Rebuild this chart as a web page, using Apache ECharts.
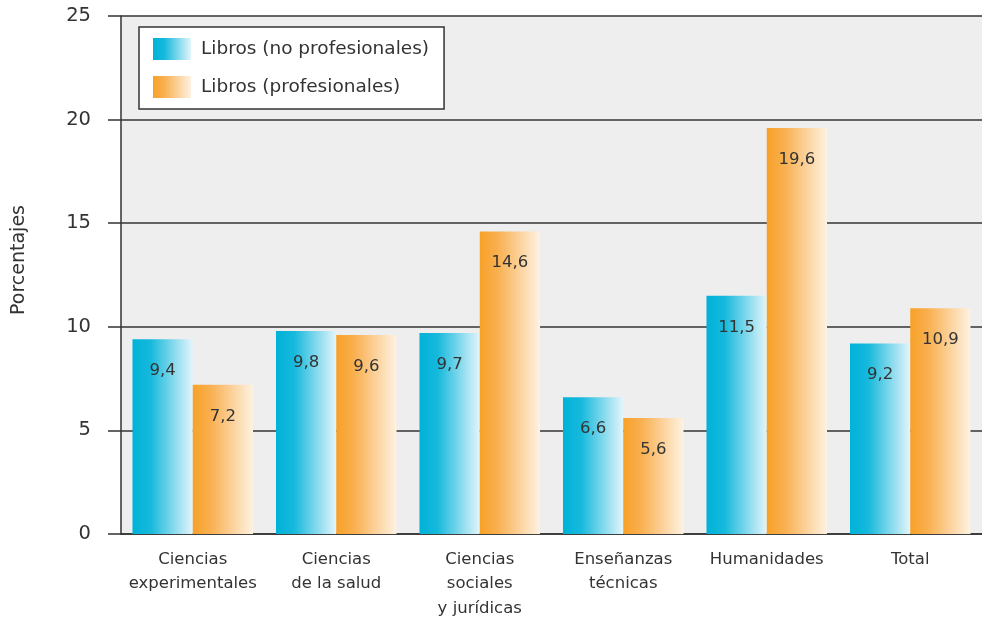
<!DOCTYPE html>
<html>
<head>
<meta charset="utf-8">
<script src="https://cdn.jsdelivr.net/npm/echarts@6/dist/echarts.min.js"></script>
<style>
  html, body { margin: 0; padding: 0; background: #fff; }
  #main { width: 982px; height: 619px; }
</style>
</head>
<body>
<div id="main"></div>
<script>
// datos
var categorias = ['Ciencias\nexperimentales', 'Ciencias\nde la salud', 'Ciencias\nsociales\ny jurídicas', 'Enseñanzas\ntécnicas', 'Humanidades', 'Total']
var noProfesionales = [9.4, 9.8, 9.7, 6.6, 11.5, 9.2]
var profesionales = [7.2, 9.6, 14.6, 5.6, 19.6, 10.9]
var nombres = ['Libros (no profesionales)', 'Libros (profesionales)']

var fuente = '"DejaVu Sans", sans-serif'

function degradado(c1, c2, c3) {
  return new echarts.graphic.LinearGradient(0, 0, 1, 0, [
    { offset: 0, color: c1 },
    { offset: 0.3, color: c2 },
    { offset: 1, color: c3 }
  ])
}

function etiqueta() {
  return {
    show: true,
    position: 'insideTop',
    distance: 23,
    color: '#333',
    fontSize: 16.5,
    fontFamily: fuente,
    formatter: function (p) { return String(p.value).replace('.', ',') }
  }
}

var myChart = echarts.init(document.getElementById('main'))
myChart.setOption({
  backgroundColor: '#fff',
  animation: false,
  grid: {
    left: 121, right: 0, top: 16, bottom: 85,
    outerBoundsMode: 'none',
    backgroundColor: '#eeeeee', show: true, borderWidth: 0
  },
  legend: {
    left: 139, top: 27,
    orient: 'vertical',
    icon: 'rect',
    itemWidth: 38, itemHeight: 22, itemGap: 16,
    padding: [11, 15, 11, 14],
    backgroundColor: '#fff',
    borderColor: '#333',
    borderWidth: 1.5,
    textStyle: { fontSize: 18.5, color: '#333', fontFamily: fuente, padding: [0, 0, 0, 5] },
    data: nombres
  },
  xAxis: {
    type: 'category',
    data: categorias,
    axisLine: { lineStyle: { color: '#333', width: 1.5 } },
    axisTick: { length: 12, lineStyle: { color: '#333', width: 1.5 } },
    axisLabel: { fontSize: 16.5, color: '#333', fontFamily: fuente, lineHeight: 24.5, margin: 13, interval: 0 }
  },
  yAxis: {
    type: 'value',
    min: 0, max: 25, interval: 5,
    name: 'Porcentajes',
    nameLocation: 'middle',
    nameGap: 92,
    nameTextStyle: { fontSize: 19, color: '#333', fontFamily: fuente, padding: [0, 0, 0, 30] },
    axisLine: { show: true, lineStyle: { color: '#333', width: 1.5 } },
    axisTick: { show: true, length: 13, lineStyle: { color: '#333', width: 1.5 } },
    axisLabel: { fontSize: 19.5, color: '#333', fontFamily: fuente, margin: 30 },
    splitLine: { lineStyle: { color: '#333', width: 1.5 } }
  },
  series: [{
    name: nombres[0],
    type: 'bar',
    data: noProfesionales,
    barGap: '0%',
    barCategoryGap: '16%',
    itemStyle: { color: degradado('#00b2d8', '#16b9dc', '#e3f5fb') },
    label: etiqueta()
  }, {
    name: nombres[1],
    type: 'bar',
    data: profesionales,
    itemStyle: { color: degradado('#f7a128', '#f9b050', '#fef2e2') },
    label: etiqueta()
  }]
})
</script>
</body>
</html>
